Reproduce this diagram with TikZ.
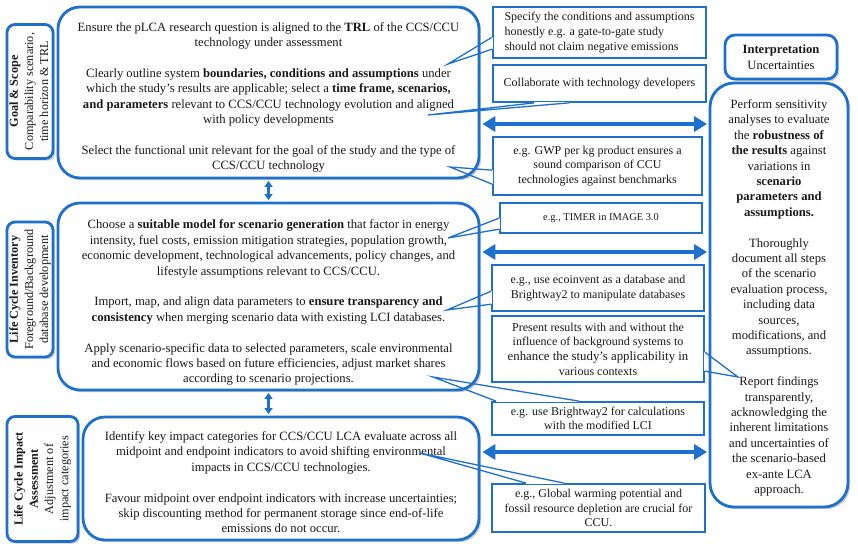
\documentclass[tikz,border=0pt]{standalone}
\usepackage{fontspec}
\usepackage{graphicx}
\setmainfont{Liberation Serif}
\usetikzlibrary{shadows,arrows.meta,calc}
\definecolor{bl}{RGB}{30,112,205}
\tikzset{
  shad/.style={drop shadow={shadow xshift=2.2pt,shadow yshift=-2.2pt,opacity=0.28,fill=black!70}},
  mainbox/.style={draw=bl, line width=2.8pt, fill=white, rounded corners=22pt, shad,
    align=center, inner sep=0pt, text=black!90, font=\fontsize{12.65}{15.4}\selectfont},
  labelbox/.style={draw=bl, line width=2.8pt, fill=white, rounded corners=8pt, shad,
    inner sep=0pt, text=black!90, font=\fontsize{12.2}{15.2}\selectfont},
  callbox/.style={draw=bl, line width=1.7pt, fill=white, inner sep=0pt, text=black!90,
    font=\fontsize{12}{14.6}\selectfont},
  ptr/.style={draw=bl, line width=1.3pt, line join=miter},
  gapline/.style={draw=white, line width=2.5pt},
  bigarrow/.style={draw=bl, line width=4.8pt,
    {Triangle[length=13pt,width=15pt]}-{Triangle[length=13pt,width=15pt]}},
  varrow/.style={draw=bl, line width=2.8pt,
    {Triangle[length=6pt,width=8pt]}-{Triangle[length=6pt,width=8pt]}},
}
\begin{document}
\begin{tikzpicture}[x=1pt,y=-1pt]
\useasboundingbox[fill=white] (0,0) rectangle (858,547);

% main boxes
\node[mainbox, minimum width=421pt, minimum height=171pt] (b1) at (268.5,92.5) {%
\rule{0pt}{18.6pt}Ensure the pLCA research question is aligned to the \textbf{TRL} of the CCS/CCU\\
technology under assessment\\[15.4pt]
Clearly outline system \textbf{boundaries, conditions and assumptions} under\\
which the study's results are applicable; select a \textbf{time frame, scenarios,}\\
\textbf{and parameters} relevant to CCS/CCU technology evolution and aligned\\
with policy developments\\[15.4pt]
Select the functional unit relevant for the goal of the study and the type of\\
CCS/CCU technology};

\node[mainbox, minimum width=421pt, minimum height=187pt] (b2) at (268.5,296.5) {%
\rule{0pt}{21.6pt}Choose a \textbf{suitable model for scenario generation} that factor in energy\\
intensity, fuel costs, emission mitigation strategies, population growth,\\
economic development, technological advancements, policy changes, and\\
lifestyle assumptions relevant to CCS/CCU.\\[15.4pt]
Import, map, and align data parameters to \textbf{ensure transparency and}\\
\textbf{consistency} when merging scenario data with existing LCI databases.\\[15.4pt]
Apply scenario-specific data to selected parameters, scale environmental\\
and economic flows based on future efficiencies, adjust market shares\\
according to scenario projections.};

\node[mainbox, minimum width=396pt, minimum height=123pt] (b3) at (281,478.5) {%
\rule{0pt}{16.6pt}Identify key impact categories for CCS/CCU LCA evaluate across all\\
midpoint and endpoint indicators to avoid shifting environmental\\
impacts in CCS/CCU technologies.\\[15.4pt]
Favour midpoint over endpoint indicators with increase uncertainties;\\
skip discounting method for permanent storage since end-of-life\\
emissions do not occur.};

% left labels
\node[labelbox, minimum width=46pt, minimum height=134pt] (gs) at (30,91.5) {%
\rotatebox{90}{\begin{tabular}{@{}c@{}}\textbf{Goal \& Scope}\\ Comparability scenario,\\ time horizon \& TRL\end{tabular}}};
\node[labelbox, minimum width=46pt, minimum height=135pt] (lci) at (30,289.5) {%
\rotatebox{90}{\begin{tabular}{@{}c@{}}\textbf{Life Cycle Inventory}\\ Foreground/Background\\ database development\end{tabular}}};
\node[labelbox, minimum width=71pt, minimum height=125pt] (lcia) at (42.5,479) {%
\rotatebox{90}{\begin{tabular}{@{}c@{}}\textbf{Life Cycle Impact}\\ \textbf{Assessment}\\ Adjustment of\\ impact categories\end{tabular}}};

% interpretation
\node[labelbox, rounded corners=10pt, minimum width=112pt, minimum height=44pt, align=center,
  font=\fontsize{12.6}{15.4}\selectfont] (intl) at (781,57) {\textbf{Interpretation}\\Uncertainties};
\node[mainbox, rounded corners=24pt, minimum width=138pt, minimum height=424pt] (int) at (779,295) {%
\rule{0pt}{14.6pt}Perform sensitivity\\ analyses to evaluate\\ the \textbf{robustness of}\\ \textbf{the results} against\\
variations in\\ \textbf{scenario}\\ \textbf{parameters and}\\ \textbf{assumptions.}\\[15.4pt]
Thoroughly\\ document all steps\\ of the scenario\\ evaluation process,\\ including data\\ sources,\\
modifications, and\\ assumptions.\\[15.4pt]
Report findings\\ transparently,\\ acknowledging the\\ inherent limitations\\ and uncertainties of\\
the scenario-based\\ ex-ante LCA\\ approach.};

% callouts
\node[callbox, minimum width=213pt, minimum height=51pt, align=left] (c1) at (599.5,32.5) {%
Specify the conditions and assumptions\\ honestly e.g. a gate-to-gate study\\ should not claim negative emissions};
\node[callbox, minimum width=213pt, minimum height=37pt, align=left] (c2) at (599.5,83.5) {%
Collaborate with technology developers};
\node[callbox, minimum width=209pt, minimum height=58pt, align=center] (c3) at (597.5,166) {%
e.g. GWP per kg product ensures a\\ sound comparison of CCU\\ technologies against benchmarks};
\node[callbox, minimum width=202pt, minimum height=30pt, align=center, font=\fontsize{10.4}{12}\selectfont] (c4) at (601,218) {%
e.g., TIMER in IMAGE 3.0};
\node[callbox, minimum width=212pt, minimum height=46pt, align=center] (c5) at (598,288) {%
e.g., use ecoinvent as a database and\\ Brightway2 to manipulate databases};
\node[callbox, minimum width=212pt, minimum height=66pt, align=center] (c6) at (598,349) {%
Present results with and without the\\ influence of background systems to\\
{\fontsize{12.8}{14.6}\selectfont enhance the study's applicability in}\\ various contexts};
\node[callbox, minimum width=212pt, minimum height=33pt, align=center] (c7) at (598,418.5) {%
e.g. use Brightway2 for calculations\\ with the modified LCI};
\node[callbox, minimum width=213pt, minimum height=48pt, align=center] (c8) at (598.5,508) {%
e.g., Global warming potential and\\ fossil resource depletion are crucial for\\ CCU.};

% pointer tips
\coordinate (t1) at (448,64);
\coordinate (t2) at (428,115);
\coordinate (t3) at (450,167);
\coordinate (t4) at (448,238);
\coordinate (t5) at (447,310);
\coordinate (t6) at (738,377);
\coordinate (t7) at (433,377);
\coordinate (t8) at (420,453);

% pointer bases
\coordinate (p1a) at ($(c1.north west)+(0,31)$);  \coordinate (p1b) at ($(c1.north west)+(0,43)$);
\coordinate (p2a) at ($(c2.south west)+(42,0)$);  \coordinate (p2b) at ($(c2.south west)+(77,0)$);
\coordinate (p3a) at ($(c3.north west)+(0,34)$);  \coordinate (p3b) at ($(c3.north west)+(0,48)$);
\coordinate (p4a) at ($(c4.north west)+(0,16)$);  \coordinate (p4b) at ($(c4.north west)+(0,27)$);
\coordinate (p5a) at ($(c5.north west)+(0,27)$);  \coordinate (p5b) at ($(c5.north west)+(0,40)$);
\coordinate (p6a) at ($(c6.north east)+(0,37)$);  \coordinate (p6b) at ($(c6.north east)+(0,56)$);
\coordinate (p7a) at ($(c7.north west)+(5,0)$);   \coordinate (p7b) at ($(c7.north west)+(88,0)$);
\coordinate (p8a) at ($(c8.north west)+(35,0)$);  \coordinate (p8b) at ($(c8.north west)+(73,0)$);

\foreach \i in {1,...,8}{
  \draw[gapline] (p\i a) -- (p\i b);
  \draw[ptr] (p\i a) -- (t\i) -- (p\i b);
}

% horizontal double arrows
\coordinate (r1) at (0,124);
\coordinate (r2) at (0,252);
\coordinate (r3) at (0,452);
\draw[bigarrow, shorten <=2pt, shorten >=1.5pt] (b1.east |- r1) -- (int.west |- r1);
\draw[bigarrow, shorten <=2pt, shorten >=1.5pt] (b2.east |- r2) -- (int.west |- r2);
\draw[bigarrow, shorten <=2pt, shorten >=1.5pt] (b3.east |- r3) -- (int.west |- r3);

% vertical double arrows
\draw[varrow, shorten <=1.5pt, shorten >=1.5pt] (b1.south) -- (b1.south |- b2.north);
\draw[varrow, shorten <=1.5pt, shorten >=1.5pt] (b2.south) -- (b2.south |- b3.north);
\end{tikzpicture}
\end{document}
